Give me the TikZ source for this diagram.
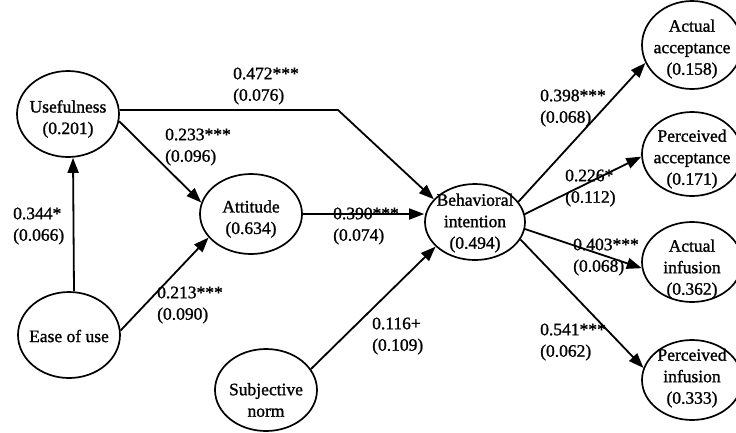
\documentclass[tikz,border=0pt]{standalone}
\usepackage{fontspec}
\setmainfont{Liberation Serif}[BoldFont={Liberation Serif}, BoldFeatures={FakeBold=1.2}]
\usetikzlibrary{shapes.geometric,arrows.meta}

\tikzset{
  every node/.style={font=\fontsize{17.5}{21.5}\selectfont\bfseries},
  construct/.style={draw, ellipse, line width=1.7pt, inner sep=0pt},
  nodetext/.style={align=center, inner sep=0pt},
  coef/.style={align=left, anchor=west, inner sep=0pt},
  path/.style={line width=1.8pt, -{Triangle[length=15pt,width=11pt]}}
}

\begin{document}
\begin{tikzpicture}[x=1pt, y=-1pt]
  \useasboundingbox (0,0) rectangle (736,432);

  % constructs
  \node[construct, minimum width=102pt, minimum height=86pt] (use) at (68,114) {};
  \node[nodetext] (t-use) at (68,119) {Usefulness\\(0.201)};

  \node[construct, minimum width=102pt, minimum height=80pt] (att) at (251,214) {};
  \node[nodetext] (t-att) at (251,219) {Attitude\\(0.634)};

  \node[construct, minimum width=102pt, minimum height=86pt] (eou) at (69,335) {};
  \node[nodetext] (t-eou) at (69,336) {Ease of use};

  \node[construct, minimum width=102pt, minimum height=82pt] (sn) at (266,390) {};
  \node[nodetext] (t-sn) at (266,400) {Subjective\\norm};

  \node[construct, minimum width=100pt, minimum height=76pt] (bi) at (475,222) {};
  \node[nodetext] (t-bi) at (475,223) {Behavioral\\intention\\(0.494)};

  \node[construct, minimum width=100pt, minimum height=88pt] (aa) at (692,45) {};
  \node[nodetext] (t-aa) at (692,49) {Actual\\acceptance\\(0.158)};

  \node[construct, minimum width=100pt, minimum height=84pt] (pa) at (692,154) {};
  \node[nodetext] (t-pa) at (692,159) {Perceived\\acceptance\\(0.171)};

  \node[construct, minimum width=100pt, minimum height=80pt] (ai) at (692,262) {};
  \node[nodetext] (t-ai) at (692,269) {Actual\\infusion\\(0.362)};

  \node[construct, minimum width=100pt, minimum height=80pt] (pi) at (692,380) {};
  \node[nodetext] (t-pi) at (692,378) {Perceived\\infusion\\(0.333)};

  % paths
  \coordinate (bend) at (338,110);
  \draw[path] (use.east |- bend) -- (bend) -- (bi.151);
  \draw[path] (use.-8) -- (att.167);
  \draw[path] ([xshift=5pt]eou.north) -- ([xshift=5pt]use.south);
  \draw[path] (eou.5) -- (att.209);
  \draw[path] (att.east) -- (att.east -| bi.west);
  \draw[path] (sn.25) -- (bi.212);
  \draw[path] (bi.25) -- (aa.201);
  \draw[path] (bi.9) -- (pa.183);
  \draw[path] (bi.-8) -- (ai.187);
  \draw[path] (bi.-21) -- (pi.166);

  % path coefficients (standard errors)
  \node[coef] (c-use-bi) at (233,86) {0.472***\\(0.076)};
  \node[coef] (c-use-att) at (165,147) {0.233***\\(0.096)};
  \node[coef] (c-eou-use) at (13,226) {0.344*\\(0.066)};
  \node[coef] (c-eou-att) at (157,305) {0.213***\\(0.090)};
  \node[coef] (c-att-bi) at (333,226) {0.390***\\(0.074)};
  \node[coef] (c-sn-bi) at (372,336) {0.116+\\(0.109)};
  \node[coef] (c-bi-aa) at (540,108) {0.398***\\(0.068)};
  \node[coef] (c-bi-pa) at (565,188) {0.226*\\(0.112)};
  \node[coef] (c-bi-ai) at (573,257) {0.403***\\(0.068)};
  \node[coef] (c-bi-pi) at (540,342) {0.541***\\(0.062)};
\end{tikzpicture}
\end{document}
